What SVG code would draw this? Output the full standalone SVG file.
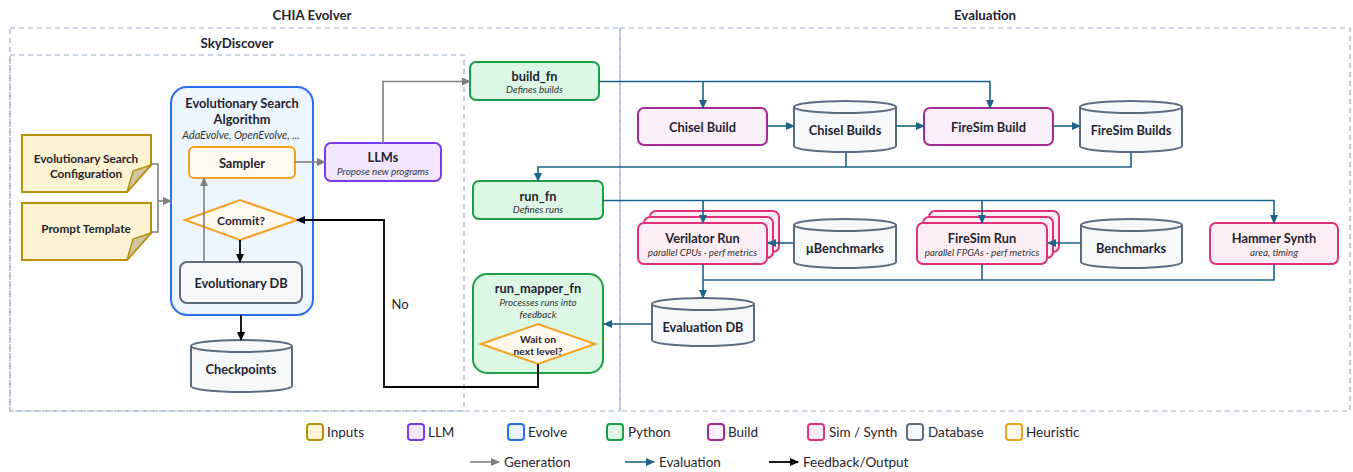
<svg xmlns="http://www.w3.org/2000/svg" width="1353" height="472" viewBox="0 0 1353 472">
<defs>
<marker id="aGen" markerUnits="userSpaceOnUse" markerWidth="9" markerHeight="8" refX="8" refY="4" orient="auto"><path d="M0,0 L9,4 L0,8 Z" fill="#7f7f7f"/></marker>
<marker id="aEval" markerUnits="userSpaceOnUse" markerWidth="9" markerHeight="8" refX="8" refY="4" orient="auto"><path d="M0,0 L9,4 L0,8 Z" fill="#1c6387"/></marker>
<marker id="aFb" markerUnits="userSpaceOnUse" markerWidth="9" markerHeight="8" refX="8" refY="4" orient="auto"><path d="M0,0 L9,4 L0,8 Z" fill="#000"/></marker>
</defs>
<style>
text{font-family:Lato,"Open Sans","Liberation Sans",sans-serif;fill:#1f2430;text-anchor:middle;dominant-baseline:central}
.t{font-size:13.3px;font-weight:700}
.b{font-size:12.8px;font-weight:700}
.n{font-size:11.8px;font-weight:700}
.s{font-size:9.8px;font-style:italic;fill:#333}
.lg{font-size:13.5px;text-anchor:start}
.box{fill:none;stroke:#9aabc5;stroke-width:1.2;stroke-dasharray:5 4}
.inp{fill:#fdf3d3;stroke:#b8900c;stroke-width:2}
.fold{fill:#cfc6a6;stroke:#b8900c;stroke-width:1.5}
.evo{fill:#edf5fe;stroke:#2a6ef0;stroke-width:2}
.heu{fill:#fffaf0;stroke:#f4a020;stroke-width:2}
.llm{fill:#f1e6fe;stroke:#7c3aed;stroke-width:2}
.py{fill:#dcf7e4;stroke:#1a9e48;stroke-width:2}
.bld{fill:#fbf0fa;stroke:#a62a94;stroke-width:2}
.sim{fill:#fdeef5;stroke:#e0307a;stroke-width:2}
.db{fill:#f6f8fa;stroke:#5d6b82;stroke-width:2}
.gen{fill:none;stroke:#7f7f7f;stroke-width:1.6}
.ev{fill:none;stroke:#1c6387;stroke-width:1.6}
.fb{fill:none;stroke:#000;stroke-width:1.8}
</style>
<rect width="1353" height="472" fill="#fff"/>

<g id="containers">
<rect class="box" x="10" y="28" width="610" height="383"/>
<rect class="box" x="620" y="28" width="730" height="383"/>
<rect class="box" x="10" y="55" width="454" height="356"/>
<text class="t" x="312" y="15">CHIA Evolver</text>
<text class="t" x="985" y="15">Evaluation</text>
<text class="t" x="237" y="43">SkyDiscover</text>
</g>

<g id="evo-config">
<path class="inp" d="M22,135 H151 V165 L127,192 H22 Z"/>
<path class="fold" d="M151,165 L133,171 L127,192 Z"/>
<text class="n" x="86" y="158">Evolutionary Search</text>
<text class="n" x="86" y="173">Configuration</text>
</g>
<g id="prompt-template">
<path class="inp" d="M22,203 H151 V233 L127,260 H22 Z"/>
<path class="fold" d="M151,233 L133,239 L127,260 Z"/>
<text class="n" x="86" y="228">Prompt Template</text>
</g>

<g id="evo-search">
<rect class="evo" x="171" y="87" width="142" height="228" rx="16"/>
<text class="b" x="242" y="103">Evolutionary Search</text>
<text class="b" x="242" y="119">Algorithm</text>
<text class="s" x="241" y="134" style="font-size:10.8px">AdaEvolve, OpenEvolve, ...</text>
</g>
<g id="sampler">
<rect class="heu" x="189" y="147" width="106" height="31" rx="5"/>
<text class="b" x="242" y="163">Sampler</text>
</g>
<g id="commit">
<path class="heu" d="M185,220 L240,200 L297,220 L240,240 Z"/>
<text class="b" x="241" y="220" style="font-size:12px">Commit?</text>
</g>
<g id="evo-db">
<rect class="db" x="180" y="262" width="122" height="41" rx="7"/>
<text class="b" x="241" y="283">Evolutionary DB</text>
</g>
<g id="checkpoints">
<path class="db" d="M191,346 V386 A50.5,6 0 0 0 292,386 V346"/>
<ellipse class="db" cx="241.5" cy="346" rx="50.5" ry="6"/>
<text class="b" x="241" y="369">Checkpoints</text>
</g>
<g id="llms">
<rect class="llm" x="325" y="143" width="116" height="38" rx="6"/>
<text class="b" x="383" y="157">LLMs</text>
<text class="s" x="383" y="171">Propose new programs</text>
</g>

<g id="build-fn">
<rect class="py" x="470" y="62" width="129" height="38" rx="6"/>
<text class="b" x="534.5" y="76">build_fn</text>
<text class="s" x="534.5" y="89">Defines builds</text>
</g>
<g id="run-fn">
<rect class="py" x="473" y="181" width="130" height="38" rx="6"/>
<text class="b" x="538" y="196">run_fn</text>
<text class="s" x="538" y="209">Defines runs</text>
</g>
<g id="run-mapper-fn">
<rect class="py" x="473" y="274" width="130" height="99" rx="14"/>
<text class="b" x="538" y="288">run_mapper_fn</text>
<text class="s" x="538" y="302">Processes runs into</text>
<text class="s" x="538" y="314">feedback</text>
<path class="heu" d="M481,344 L538,324 L595,344 L538,364 Z"/>
<text class="b" x="538" y="339" style="font-size:10.3px">Wait on</text>
<text class="b" x="538" y="351" style="font-size:10.3px">next level?</text>
</g>

<g id="chisel-build">
<rect class="bld" x="638" y="108" width="129" height="37" rx="6"/>
<text class="b" x="702.5" y="127">Chisel Build</text>
</g>
<g id="chisel-builds">
<path class="db" d="M794,107 V146 A51,6 0 0 0 896,146 V107"/>
<ellipse class="db" cx="845" cy="107" rx="51" ry="6"/>
<text class="b" x="845" y="130">Chisel Builds</text>
</g>
<g id="firesim-build">
<rect class="bld" x="924" y="108" width="129" height="37" rx="6"/>
<text class="b" x="988.5" y="127">FireSim Build</text>
</g>
<g id="firesim-builds">
<path class="db" d="M1080,107 V146 A51,6 0 0 0 1182,146 V107"/>
<ellipse class="db" cx="1131" cy="107" rx="51" ry="6"/>
<text class="b" x="1131" y="130">FireSim Builds</text>
</g>

<g id="verilator-run">
<rect class="sim" x="650" y="211" width="129" height="41" rx="6"/>
<rect class="sim" x="644" y="217" width="129" height="41" rx="6"/>
<rect class="sim" x="638" y="223" width="129" height="41" rx="6"/>
<text class="b" x="702.5" y="238">Verilator Run</text>
<text class="s" x="702.5" y="252">parallel CPUs · perf metrics</text>
</g>
<g id="ubenchmarks">
<path class="db" d="M794,225 V262 A51,6 0 0 0 896,262 V225"/>
<ellipse class="db" cx="845" cy="225" rx="51" ry="6"/>
<text class="b" x="845" y="248">μBenchmarks</text>
</g>
<g id="firesim-run">
<rect class="sim" x="929" y="211" width="130" height="41" rx="6"/>
<rect class="sim" x="923" y="217" width="130" height="41" rx="6"/>
<rect class="sim" x="917" y="223" width="130" height="41" rx="6"/>
<text class="b" x="982" y="238">FireSim Run</text>
<text class="s" x="982" y="252">parallel FPGAs · perf metrics</text>
</g>
<g id="benchmarks">
<path class="db" d="M1081,225 V262 A50.5,6 0 0 0 1182,262 V225"/>
<ellipse class="db" cx="1131.5" cy="225" rx="50.5" ry="6"/>
<text class="b" x="1131" y="248">Benchmarks</text>
</g>
<g id="hammer-synth">
<rect class="sim" x="1210" y="223" width="128" height="41" rx="6"/>
<text class="b" x="1274" y="238">Hammer Synth</text>
<text class="s" x="1274" y="252">area, timing</text>
</g>
<g id="evaluation-db">
<path class="db" d="M652,304 V340 A51,6 0 0 0 754,340 V304"/>
<ellipse class="db" cx="703" cy="304" rx="51" ry="6"/>
<text class="b" x="703" y="327">Evaluation DB</text>
</g>

<g id="connectors">
<path class="gen" d="M151,164 H158 V232 H151"/>
<path class="gen" d="M158,201 H171" marker-end="url(#aGen)"/>
<path class="gen" d="M295,162 H325" marker-end="url(#aGen)"/>
<path class="gen" d="M383,143 V81.5 H470" marker-end="url(#aGen)"/>
<path class="gen" d="M204,261 V178" marker-end="url(#aGen)"/>
<path class="fb" d="M240,240 V262" marker-end="url(#aFb)"/>
<path class="fb" d="M241,315 V340" marker-end="url(#aFb)"/>
<path class="fb" d="M538,364 V387 H384 V220 H297" marker-end="url(#aFb)"/>
<path class="ev" d="M599,81.5 H990 V108" marker-end="url(#aEval)"/>
<path class="ev" d="M703,81.5 V108" marker-end="url(#aEval)"/>
<path class="ev" d="M767,126 H794" marker-end="url(#aEval)"/>
<path class="ev" d="M896,126 H924" marker-end="url(#aEval)"/>
<path class="ev" d="M1053,126 H1080" marker-end="url(#aEval)"/>
<path class="ev" d="M846,153 V167"/>
<path class="ev" d="M1131,153 V167 H538 V181" marker-end="url(#aEval)"/>
<path class="ev" d="M603,200.5 H1274 V223" marker-end="url(#aEval)"/>
<path class="ev" d="M703,200.5 V223" marker-end="url(#aEval)"/>
<path class="ev" d="M982,200.5 V223" marker-end="url(#aEval)"/>
<path class="ev" d="M794,243 H768" marker-end="url(#aEval)"/>
<path class="ev" d="M1081,243 H1048" marker-end="url(#aEval)"/>
<path class="ev" d="M703,264 V298" marker-end="url(#aEval)"/>
<path class="ev" d="M703,280 H1274 V264"/>
<path class="ev" d="M982,264 V280"/>
<path class="ev" d="M652,324 H604" marker-end="url(#aEval)"/>
<text x="400" y="304" style="font-size:13px">No</text>
</g>

<g id="legend">
<rect class="inp" x="307" y="424" width="16" height="16" rx="3"/><text class="lg" x="327" y="432">Inputs</text>
<rect class="llm" x="408" y="424" width="16" height="16" rx="3"/><text class="lg" x="428" y="432">LLM</text>
<rect class="evo" x="508" y="424" width="16" height="16" rx="3"/><text class="lg" x="528" y="432">Evolve</text>
<rect class="py" x="607" y="424" width="16" height="16" rx="3"/><text class="lg" x="628" y="432">Python</text>
<rect class="bld" x="708" y="424" width="16" height="16" rx="3"/><text class="lg" x="728" y="432">Build</text>
<rect class="sim" x="808" y="424" width="16" height="16" rx="3"/><text class="lg" x="829" y="432">Sim / Synth</text>
<rect class="db" x="907" y="424" width="16" height="16" rx="3"/><text class="lg" x="928" y="432">Database</text>
<rect class="heu" x="1006" y="424" width="16" height="16" rx="3"/><text class="lg" x="1026" y="432">Heuristic</text>
<path class="gen" d="M470,462 H499" marker-end="url(#aGen)"/><text class="lg" x="504" y="462">Generation</text>
<path class="ev" d="M625,462 H654" marker-end="url(#aEval)"/><text class="lg" x="659" y="462">Evaluation</text>
<path class="fb" d="M769,462 H798" marker-end="url(#aFb)"/><text class="lg" x="803" y="462">Feedback/Output</text>
</g>
</svg>
